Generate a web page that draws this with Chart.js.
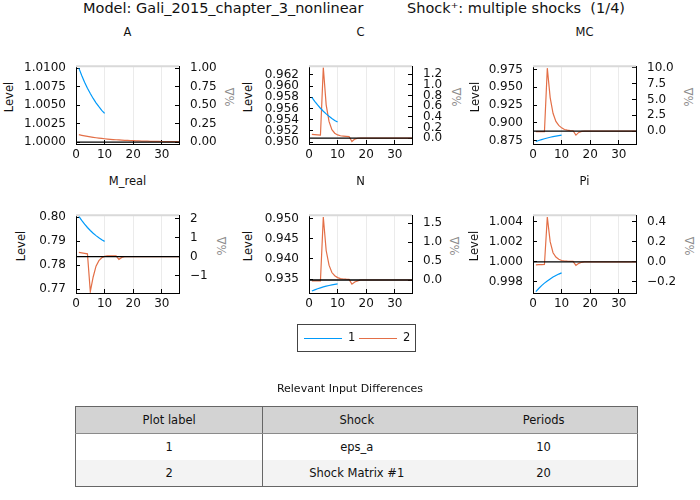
<!DOCTYPE html>
<html>
<head>
<meta charset="utf-8">
<script src="https://cdn.jsdelivr.net/npm/chart.js@4.4.1/dist/chart.umd.min.js"></script>
<style>
  body { margin: 0; width: 700px; height: 500px; position: relative; overflow: hidden; background: #fff;
         font-family: 'DejaVu Sans', sans-serif; color: #111; }
  .abs { position: absolute; white-space: nowrap; }
  .ctr { transform: translate(-50%, -50%); }
  .vert { transform: translate(-50%, -50%) rotate(-90deg); }
  canvas { position: absolute; }
  #legend { position: absolute; left: 297px; top: 324px; width: 117px; height: 26px; border: 1px solid #444;
            font-size: 11.5px; }
  #legend .seg { position: absolute; top: 13px; height: 1.3px; width: 38px; }
  #legend .lab { position: absolute; top: 5px; }
  table { position: absolute; left: 75px; top: 406px; width: 563px; border-collapse: collapse; table-layout: fixed;
          font-size: 11.5px; border: 1px solid #666; }
  th, td { height: 26px; padding: 0; text-align: center; font-weight: normal; color: #111; }
  th { background: #d3d3d3; border-bottom: 1px solid #8a8a8a; }
  tr.alt td { background: #f3f3f3; }
  .c0 { border-right: 1px solid #666; }
</style>
</head>
<body>
<div class="abs" style="left:83px;top:0px;font-size:14.5px;">Model: Gali_2015_chapter_3_nonlinear</div>
<div class="abs" style="left:407px;top:0px;font-size:14.5px;">Shock⁺: multiple shocks&nbsp;&nbsp;(1/4)</div>
<div id="panels"></div>
<div id="legend"></div>
<div class="abs ctr" style="left:350px;top:388px;font-size:11px;">Relevant Input Differences</div>
<table id="diffs"></table>

<script>
// ---- data ----
const xTicks = [0, 10, 20, 30];
const xMax = 36;
const seriesLabels = ['1', '2'];
const seriesColors = ['#009AFA', '#E36F47'];

const A_ss = 1.0;
const A_limits = [0.99974, 1.01026];
const A_levelTicks = [1.0000, 1.0025, 1.0050, 1.0075, 1.0100];
const A_pctTicks = [0, 0.25, 0.5, 0.75, 1.0];
const A_irf1 = [1.0100, 1.0090, 1.0081, 1.00729, 1.00656, 1.0059, 1.00531, 1.00478, 1.0043, 1.00387];
const A_irf2 = [1.00100, 1.000915, 1.000837, 1.000766, 1.000701, 1.000641, 1.000587, 1.000537, 1.000491, 1.000449,
  1.000411, 1.000376, 1.000344, 1.000315, 1.000288, 1.000263, 1.000241, 1.000220, 1.000202, 1.000185,
  1.000169, 1.000155, 1.000141, 1.000129, 1.000118, 1.000108, 1.000099, 1.000091, 1.000083, 1.000076,
  1.000070, 1.000064, 1.000058, 1.000053, 1.000049, 1.000045];

const C_ss = 0.95072;
const C_limits = [0.94966, 0.96355];
const C_levelTicks = [0.950, 0.952, 0.954, 0.956, 0.958, 0.960, 0.962];
const C_pctTicks = [0.0, 0.2, 0.4, 0.6, 0.8, 1.0, 1.2];
const C_irf1 = [0.95800, 0.95728, 0.95663, 0.95604, 0.95551, 0.95503, 0.95460, 0.95421, 0.95386, 0.95357];
const C_irf2 = [0.95138, 0.95133, 0.95128, 0.95123, 0.96330, 0.95665, 0.95369, 0.95222, 0.95158, 0.95128,
  0.95113, 0.95108, 0.95103, 0.95099, 0.95010, 0.95054, 0.95069, 0.95072, 0.95072, 0.95072,
  0.95072, 0.95072, 0.95072, 0.95072, 0.95072, 0.95072, 0.95072, 0.95072, 0.95072, 0.95072,
  0.95072, 0.95072, 0.95072, 0.95072, 0.95072, 0.95072];

const MC_ss = 0.88857;
const MC_limits = [0.87035, 0.97965];
const MC_levelTicks = [0.875, 0.900, 0.925, 0.950, 0.975];
const MC_pctTicks = [0.0, 2.5, 5.0, 7.5, 10.0];
const MC_irf1 = [0.87380, 0.87526, 0.87658, 0.87777, 0.87884, 0.87980, 0.88067, 0.88145, 0.88216, 0.88280];
const MC_irf2 = [0.88780, 0.88780, 0.88779, 0.88778, 0.97690, 0.93557, 0.91357, 0.90207, 0.89657, 0.89307,
  0.89077, 0.88977, 0.88927, 0.88897, 0.88280, 0.88660, 0.88810, 0.88857, 0.88857, 0.88857,
  0.88857, 0.88857, 0.88857, 0.88857, 0.88857, 0.88857, 0.88857, 0.88857, 0.88857, 0.88857,
  0.88857, 0.88857, 0.88857, 0.88857, 0.88857, 0.88857];

const Mreal_ss = 0.78356;
const Mreal_limits = [0.76839, 0.80080];
const Mreal_levelTicks = [0.77, 0.78, 0.79, 0.80];
const Mreal_pctTicks = [-1, 0, 1, 2];
const Mreal_irf1 = [0.80034, 0.79861, 0.79706, 0.79567, 0.79442, 0.79330, 0.79230, 0.79140, 0.79059, 0.78989];
const Mreal_irf2 = [0.78528, 0.78510, 0.78490, 0.78471, 0.76896, 0.77506, 0.77956, 0.78186, 0.78306, 0.78366,
  0.78386, 0.78391, 0.78391, 0.78390, 0.78241, 0.78322, 0.78350, 0.78356, 0.78356, 0.78356,
  0.78356, 0.78356, 0.78356, 0.78356, 0.78356, 0.78356, 0.78356, 0.78356, 0.78356, 0.78356,
  0.78356, 0.78356, 0.78356, 0.78356, 0.78356, 0.78356];

const N_ss = 0.93480;
const N_limits = [0.93159, 0.95083];
const N_levelTicks = [0.935, 0.940, 0.945, 0.950];
const N_pctTicks = [0.0, 0.5, 1.0, 1.5];
const N_irf1 = [0.93207, 0.93237, 0.93264, 0.93287, 0.93309, 0.93328, 0.93344, 0.93359, 0.93372, 0.93384];
const N_irf2 = [0.93460, 0.93460, 0.93461, 0.93461, 0.95035, 0.94210, 0.93847, 0.93665, 0.93586, 0.93540,
  0.93515, 0.93505, 0.93500, 0.93497, 0.93378, 0.93432, 0.93460, 0.93480, 0.93480, 0.93480,
  0.93480, 0.93480, 0.93480, 0.93480, 0.93480, 0.93480, 0.93480, 0.93480, 0.93480, 0.93480,
  0.93480, 0.93480, 0.93480, 0.93480, 0.93480, 0.93480];

const Pi_ss = 1.0;
const Pi_limits = [0.99690, 1.00463];
const Pi_levelTicks = [0.998, 1.000, 1.002, 1.004];
const Pi_pctTicks = [-0.2, 0.0, 0.2, 0.4];
const Pi_irf1 = [0.99704, 0.99735, 0.99763, 0.99788, 0.99810, 0.99830, 0.99848, 0.99864, 0.99878, 0.99890];
const Pi_irf2 = [0.99970, 0.99971, 0.99972, 0.99973, 1.00444, 1.00200, 1.00090, 1.00047, 1.00025, 1.00013,
  1.00008, 1.00006, 1.00005, 1.00004, 0.99964, 0.99985, 0.99995, 1.00000, 1.00000, 1.00000,
  1.00000, 1.00000, 1.00000, 1.00000, 1.00000, 1.00000, 1.00000, 1.00000, 1.00000, 1.00000,
  1.00000, 1.00000, 1.00000, 1.00000, 1.00000, 1.00000];

const tableHeader = ['Plot label', 'Shock', 'Periods'];
const tableRows = [['1', 'eps_a', '10'], ['2', 'Shock Matrix #1', '20']];

// ---- panel setup ----
const panels = [
  { name: 'A',      ss: A_ss,     lim: A_limits,     lt: A_levelTicks,     pt: A_pctTicks,     d: [4, 2], s1: A_irf1,     s2: A_irf2 },
  { name: 'C',      ss: C_ss,     lim: C_limits,     lt: C_levelTicks,     pt: C_pctTicks,     d: [3, 1], s1: C_irf1,     s2: C_irf2 },
  { name: 'MC',     ss: MC_ss,    lim: MC_limits,    lt: MC_levelTicks,    pt: MC_pctTicks,    d: [3, 1], s1: MC_irf1,    s2: MC_irf2 },
  { name: 'M_real', ss: Mreal_ss, lim: Mreal_limits, lt: Mreal_levelTicks, pt: Mreal_pctTicks, d: [2, 0], s1: Mreal_irf1, s2: Mreal_irf2 },
  { name: 'N',      ss: N_ss,     lim: N_limits,     lt: N_levelTicks,     pt: N_pctTicks,     d: [3, 1], s1: N_irf1,     s2: N_irf2 },
  { name: 'Pi',     ss: Pi_ss,    lim: Pi_limits,    lt: Pi_levelTicks,    pt: Pi_pctTicks,    d: [3, 1], s1: Pi_irf1,    s2: Pi_irf2 },
];

// plot-area boxes (page px) and label spots
const boxes = [
  { L: 76,  T: 50,  ty: 31.5,  lx: 8.5,   px: 230 },
  { L: 309, T: 50,  ty: 31.5,  lx: 248,   px: 457 },
  { L: 533, T: 50,  ty: 31.5,  lx: 475,   px: 689 },
  { L: 76,  T: 199, ty: 180.5, lx: 21,    px: 222 },
  { L: 309, T: 199, ty: 180.5, lx: 248,   px: 455 },
  { L: 533, T: 199, ty: 180.5, lx: 473.5, px: 690 },
];
const PW = 103, PH = 94, LW = 80, RW = 55, XH = 26, PADT = 6;
const tickFont = { family: 'DejaVu Sans', size: 12 };

Chart.defaults.font.family = 'DejaVu Sans';
Chart.defaults.font.size = 12;
Chart.defaults.color = '#111';

const fmt = (v, d) => (v < -1e-9 ? '\u2212' : '') + Math.abs(v).toFixed(d);

const topFrame = {
  id: 'topFrame',
  afterDraw(chart) {
    const { ctx, chartArea: a } = chart;
    ctx.save();
    ctx.strokeStyle = '#d9d9d9';
    ctx.lineWidth = 2;
    ctx.beginPath();
    ctx.moveTo(a.left, a.top);
    ctx.lineTo(a.right, a.top);
    ctx.stroke();
    ctx.restore();
  }
};

const host = document.getElementById('panels');

panels.forEach((p, i) => {
  const b = boxes[i];

  const t = document.createElement('div');
  t.className = 'abs ctr';
  t.style.cssText = `left:${b.L + PW / 2}px;top:${b.ty}px;font-size:11.5px;`;
  t.textContent = p.name;
  host.appendChild(t);

  const lv = document.createElement('div');
  lv.className = 'abs vert';
  lv.style.cssText = `left:${b.lx}px;top:${b.T + PH / 2}px;font-size:11.5px;`;
  lv.textContent = 'Level';
  host.appendChild(lv);

  const pc = document.createElement('div');
  pc.className = 'abs vert';
  pc.style.cssText = `left:${b.px}px;top:${b.T + PH / 2}px;font-size:11.5px;color:#8c8c8c;`;
  pc.textContent = '%Δ';
  host.appendChild(pc);

  const cv = document.createElement('canvas');
  cv.width = LW + PW + RW;
  cv.height = PADT + PH + XH;
  cv.style.left = (b.L - LW) + 'px';
  cv.style.top = (b.T - PADT) + 'px';
  host.appendChild(cv);

  const pctMin = (p.lim[0] / p.ss - 1) * 100;
  const pctMax = (p.lim[1] / p.ss - 1) * 100;

  new Chart(cv, {
    type: 'line',
    data: {
      datasets: [
        { data: [{ x: 0, y: p.ss }, { x: xMax, y: p.ss }], borderColor: '#000', borderWidth: 1.3, yAxisID: 'y' },
        { data: p.s1.map((v, k) => ({ x: k + 1, y: v })), borderColor: seriesColors[0], borderWidth: 1.2, yAxisID: 'y' },
        { data: p.s2.map((v, k) => ({ x: k + 1, y: v })), borderColor: seriesColors[1], borderWidth: 1.2, yAxisID: 'y' },
      ]
    },
    options: {
      responsive: false,
      animation: false,
      layout: { padding: { top: PADT, left: 0, right: 0, bottom: 0 } },
      elements: { point: { radius: 0 }, line: { tension: 0 } },
      plugins: { legend: { display: false }, tooltip: { enabled: false } },
      scales: {
        x: {
          type: 'linear', min: 0, max: xMax,
          afterBuildTicks: s => { s.ticks = xTicks.map(v => ({ value: v })); },
          afterFit: s => { s.height = XH; },
          ticks: { padding: 8, maxRotation: 0, autoSkip: false, font: tickFont, callback: v => String(v) },
          grid: { color: '#ebebeb', tickLength: -4, tickColor: '#000' },
          border: { color: '#000', width: 1 },
        },
        y: {
          type: 'linear', position: 'left', min: p.lim[0], max: p.lim[1],
          afterBuildTicks: s => { s.ticks = p.lt.map(v => ({ value: v })); },
          afterFit: s => { s.width = LW; },
          ticks: { padding: 14, autoSkip: false, font: tickFont, callback: v => fmt(v, p.d[0]) },
          grid: { drawOnChartArea: false, tickLength: -4, tickColor: '#000' },
          border: { color: '#000', width: 1 },
        },
        y1: {
          type: 'linear', position: 'right', min: pctMin, max: pctMax,
          afterBuildTicks: s => { s.ticks = p.pt.map(v => ({ value: v })); },
          afterFit: s => { s.width = RW; },
          ticks: { padding: 15, autoSkip: false, font: tickFont, callback: v => fmt(v, p.d[1]) },
          grid: { drawOnChartArea: false, tickLength: -4, tickColor: '#000' },
          border: { color: '#000', width: 1 },
        },
      }
    },
    plugins: [topFrame]
  });
});

// legend
const leg = document.getElementById('legend');
seriesLabels.forEach((lab, i) => {
  const seg = document.createElement('div');
  seg.className = 'seg';
  seg.style.left = (6 + i * 55) + 'px';
  seg.style.background = seriesColors[i];
  leg.appendChild(seg);
  const tx = document.createElement('div');
  tx.className = 'lab';
  tx.style.left = (50 + i * 55) + 'px';
  tx.textContent = lab;
  leg.appendChild(tx);
});

// table
const tbl = document.getElementById('diffs');
const hr = document.createElement('tr');
tableHeader.forEach((h, c) => {
  const th = document.createElement('th');
  if (c === 0) th.className = 'c0';
  th.textContent = h;
  hr.appendChild(th);
});
tbl.appendChild(hr);
tableRows.forEach((row, r) => {
  const tr = document.createElement('tr');
  if (r % 2 === 1) tr.className = 'alt';
  row.forEach((cell, c) => {
    const td = document.createElement('td');
    if (c === 0) td.className = 'c0';
    td.textContent = cell;
    tr.appendChild(td);
  });
  tbl.appendChild(tr);
});
</script>
</body>
</html>
